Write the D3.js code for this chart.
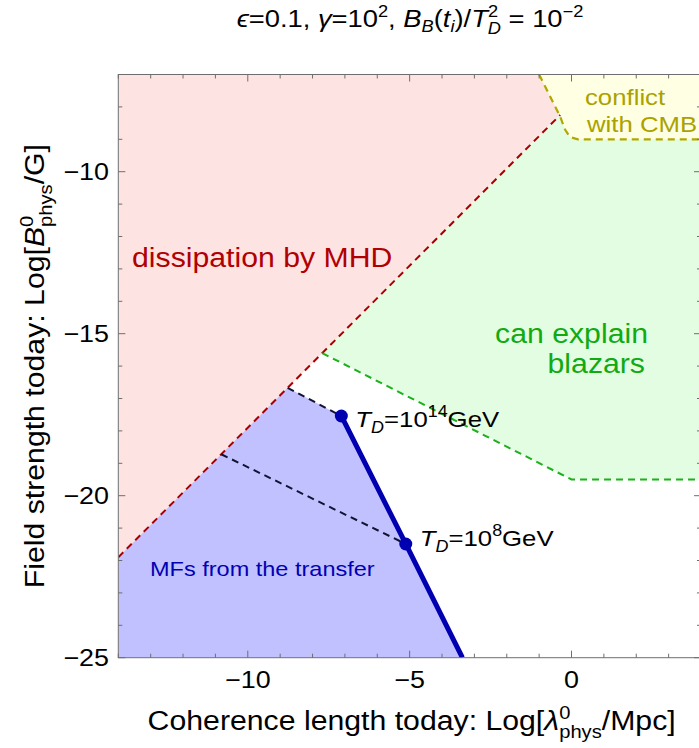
<!DOCTYPE html>
<html>
<head>
<meta charset="utf-8">
<script src="https://cdn.jsdelivr.net/npm/d3@7"></script>
<style>
  html, body { margin: 0; padding: 0; background: #fff; }
  svg { display: block; font-family: "Liberation Sans", Arial, sans-serif; }
</style>
</head>
<body>
<svg id="chart" width="699" height="748"></svg>
<script>
// ---------------- data ----------------
const xDomain = [-14, 4];
const yDomain = [-25, -7];
const xMajorTicks = [-10, -5, 0];
const yMajorTicks = [-10, -15, -20, -25];
const xMinorTicks = d3.range(-14, 5, 1);
const yMinorTicks = d3.range(-25, -6, 1);

// MHD dissipation boundary (red dashed)
const mhdLine = [[-14, -21.9], [-0.35, -8.25]];
// CMB conflict boundary (olive dashed)
const cmbLine = [[-1.0, -7], [-0.35, -8.3], [-0.2, -8.7], [-0.05, -8.93], [0.2, -9], [4, -9]];
// lower boundary of blazar region (green dashed)
const blazarLine = [[-7.7, -15.6], [0, -19.5], [4, -19.5]];
// thick blue transfer line with the two marked points
const transferLine = [[-7.11, -17.54], [-5.12, -21.49], [-3.37, -25]];
const tdPoints = [[-7.11, -17.54], [-5.12, -21.49]];
const tdExponents = ["14", "8"];
// black dashed lines
const dash14 = [[-8.77, -16.67], [-7.11, -17.54]];
const dash8 = [[-10.82, -18.72], [-5.12, -21.49]];

// region polygons
const pinkRegion = [[-14, -7], [-1.0, -7], [-0.35, -8.25], [-14, -21.9]];
const yellowRegion = [[-1.0, -7], [-0.35, -8.3], [-0.2, -8.7], [-0.05, -8.93], [0.2, -9], [4, -9], [4, -7]];
const greenRegion = [[-7.7, -15.6], [-0.35, -8.25], [-0.2, -8.7], [-0.05, -8.93], [0.2, -9], [4, -9], [4, -19.5], [0, -19.5]];
const blueRegion = [[-14, -25], [-14, -21.9], [-8.77, -16.67], [-7.11, -17.54], [-5.12, -21.49], [-3.37, -25]];

// ---------------- layout ----------------
const svg = d3.select("#chart");
const L = 118.3, R = 701, T = 74.5, B = 657.7;
const x = d3.scaleLinear(xDomain, [L, R]);
const y = d3.scaleLinear(yDomain, [B, T]);
const line = d3.line().x(d => x(d[0])).y(d => y(d[1]));
const poly = pts => line(pts) + "Z";
const SX = 1.12; // horizontal text stretch

const plot = svg.append("g");
plot.append("defs").append("clipPath").attr("id", "clip")
  .append("rect").attr("x", L).attr("y", T).attr("width", R - L).attr("height", B - T);
const pg = plot.append("g").attr("clip-path", "url(#clip)");

pg.append("path").attr("d", poly(pinkRegion)).attr("fill", "#fee3e3");
pg.append("path").attr("d", poly(yellowRegion)).attr("fill", "#ffffe3");
pg.append("path").attr("d", poly(greenRegion)).attr("fill", "#e3fde3");
pg.append("path").attr("d", poly(blueRegion)).attr("fill", "#c1c1ff");

pg.append("path").attr("d", line(mhdLine)).attr("fill", "none")
  .attr("stroke", "#a80000").attr("stroke-width", 2).attr("stroke-dasharray", "7,5");
pg.append("path").attr("d", line(cmbLine)).attr("fill", "none")
  .attr("stroke", "#b2a600").attr("stroke-width", 2.2).attr("stroke-dasharray", "7,5");
pg.append("path").attr("d", line(blazarLine)).attr("fill", "none")
  .attr("stroke", "#1cb01c").attr("stroke-width", 2).attr("stroke-dasharray", "7,5");
[dash14, dash8].forEach(d => pg.append("path").attr("d", line(d)).attr("fill", "none")
  .attr("stroke", "#121235").attr("stroke-width", 2).attr("stroke-dasharray", "7,5"));
pg.append("path").attr("d", line(transferLine)).attr("fill", "none")
  .attr("stroke", "#0000b0").attr("stroke-width", 5);
pg.selectAll("circle.td").data(tdPoints).join("circle")
  .attr("cx", d => x(d[0])).attr("cy", d => y(d[1])).attr("r", 6.5).attr("fill", "#0000b0");

// ---------------- text helper ----------------
function stretched(px, py, size, anchor, fill, rot = 0, sx = SX) {
  const g = svg.append("g").attr("transform", `translate(${px},${py}) rotate(${rot}) scale(${sx},1)`);
  return g.append("text").attr("font-size", size).attr("text-anchor", anchor).attr("fill", fill);
}

// region labels
stretched(132, 267, 27, "start", "#b00000").text("dissipation by MHD");
stretched(648, 343, 27, "end", "#11aa11").text("can explain");
stretched(645, 373, 27, "end", "#11aa11").text("blazars");
stretched(585, 105, 23, "start", "#aaa200").text("conflict");
stretched(587, 132, 23, "start", "#aaa200").text("with CMB");
stretched(150, 576, 21, "start", "#0000b4").text("MFs from the transfer");

// T_D labels (per-label vertical offsets from the points)
const tdLabelDy = [11, 2];
tdPoints.forEach((p, i) => {
  const t = stretched(x(p[0]) + 14, y(p[1]) + tdLabelDy[i], 23, "start", "#000");
  t.append("tspan").attr("font-style", "italic").text("T");
  t.append("tspan").attr("font-style", "italic").attr("font-size", 16).attr("dy", 6).text("D");
  t.append("tspan").attr("dy", -6).text("=10");
  t.append("tspan").attr("font-size", 16).attr("dy", -10).text(tdExponents[i]);
  t.append("tspan").attr("dy", 10).text("GeV");
});

// ---------------- frame & ticks ----------------
const ax = svg.append("g").attr("stroke", "#6e6e6e").attr("stroke-width", 1);
ax.append("rect").attr("x", L).attr("y", T).attr("width", R - L).attr("height", B - T).attr("fill", "none");
xMinorTicks.forEach(v => {
  const len = xMajorTicks.includes(v) ? 7 : 4;
  ax.append("line").attr("x1", x(v)).attr("x2", x(v)).attr("y1", B).attr("y2", B - len);
  ax.append("line").attr("x1", x(v)).attr("x2", x(v)).attr("y1", T).attr("y2", T + len);
});
yMinorTicks.forEach(v => {
  const len = yMajorTicks.includes(v) ? 7 : 4;
  ax.append("line").attr("y1", y(v)).attr("y2", y(v)).attr("x1", L).attr("x2", L + len);
  ax.append("line").attr("y1", y(v)).attr("y2", y(v)).attr("x1", R).attr("x2", R - len);
});

const fmt = v => v < 0 ? "\u2212" + Math.abs(v) : String(v);
xMajorTicks.forEach(v => stretched(x(v), 688, 24, "middle", "#000").text(fmt(v)));
yMajorTicks.forEach(v => stretched(109, y(v) + 8.5, 24, "end", "#000").text(fmt(v)));

// axis labels
const xl = stretched((L + R) / 2 + 2, 730, 27, "middle", "#000");
xl.append("tspan").text("Coherence length today: Log[");
xl.append("tspan").attr("font-style", "italic").text("\u03BB");
xl.append("tspan").attr("font-size", 18).attr("dy", -11).text("0");
xl.append("tspan").attr("font-size", 18).attr("dx", -10).attr("dy", 19).text("phys");
xl.append("tspan").attr("dy", -8).text("/Mpc]");

const yl = stretched(44, (T + B) / 2, 27, "middle", "#000", -90);
yl.append("tspan").text("Field strength today: Log[");
yl.append("tspan").attr("font-style", "italic").text("B");
yl.append("tspan").attr("font-size", 18).attr("dy", -11).text("0");
yl.append("tspan").attr("font-size", 18).attr("dx", -10).attr("dy", 19).text("phys");
yl.append("tspan").attr("dy", -8).text("/G]");

// title
const tt = stretched(410, 27, 24, "middle", "#000", 0, 1.14);
tt.append("tspan").attr("font-style", "italic").text("\u03F5");
tt.append("tspan").text("=0.1, ");
tt.append("tspan").attr("font-style", "italic").text("\u03B3");
tt.append("tspan").text("=10");
tt.append("tspan").attr("font-size", 16).attr("dy", -10).text("2");
tt.append("tspan").attr("dy", 10).text(", ");
tt.append("tspan").attr("font-style", "italic").text("B");
tt.append("tspan").attr("font-style", "italic").attr("font-size", 16).attr("dy", 5).text("B");
tt.append("tspan").attr("dy", -5).text("(");
tt.append("tspan").attr("font-style", "italic").text("t");
tt.append("tspan").attr("font-style", "italic").attr("font-size", 16).attr("dy", 5).text("i");
tt.append("tspan").attr("dy", -5).text(")/");
tt.append("tspan").attr("font-style", "italic").text("T");
tt.append("tspan").attr("font-size", 16).attr("dy", -10).text("2");
tt.append("tspan").attr("font-style", "italic").attr("font-size", 16).attr("dx", -9).attr("dy", 17).text("D");
tt.append("tspan").attr("dy", -7).text(" = 10");
tt.append("tspan").attr("font-size", 16).attr("dy", -10).text("\u22122");
</script>
</body>
</html>
